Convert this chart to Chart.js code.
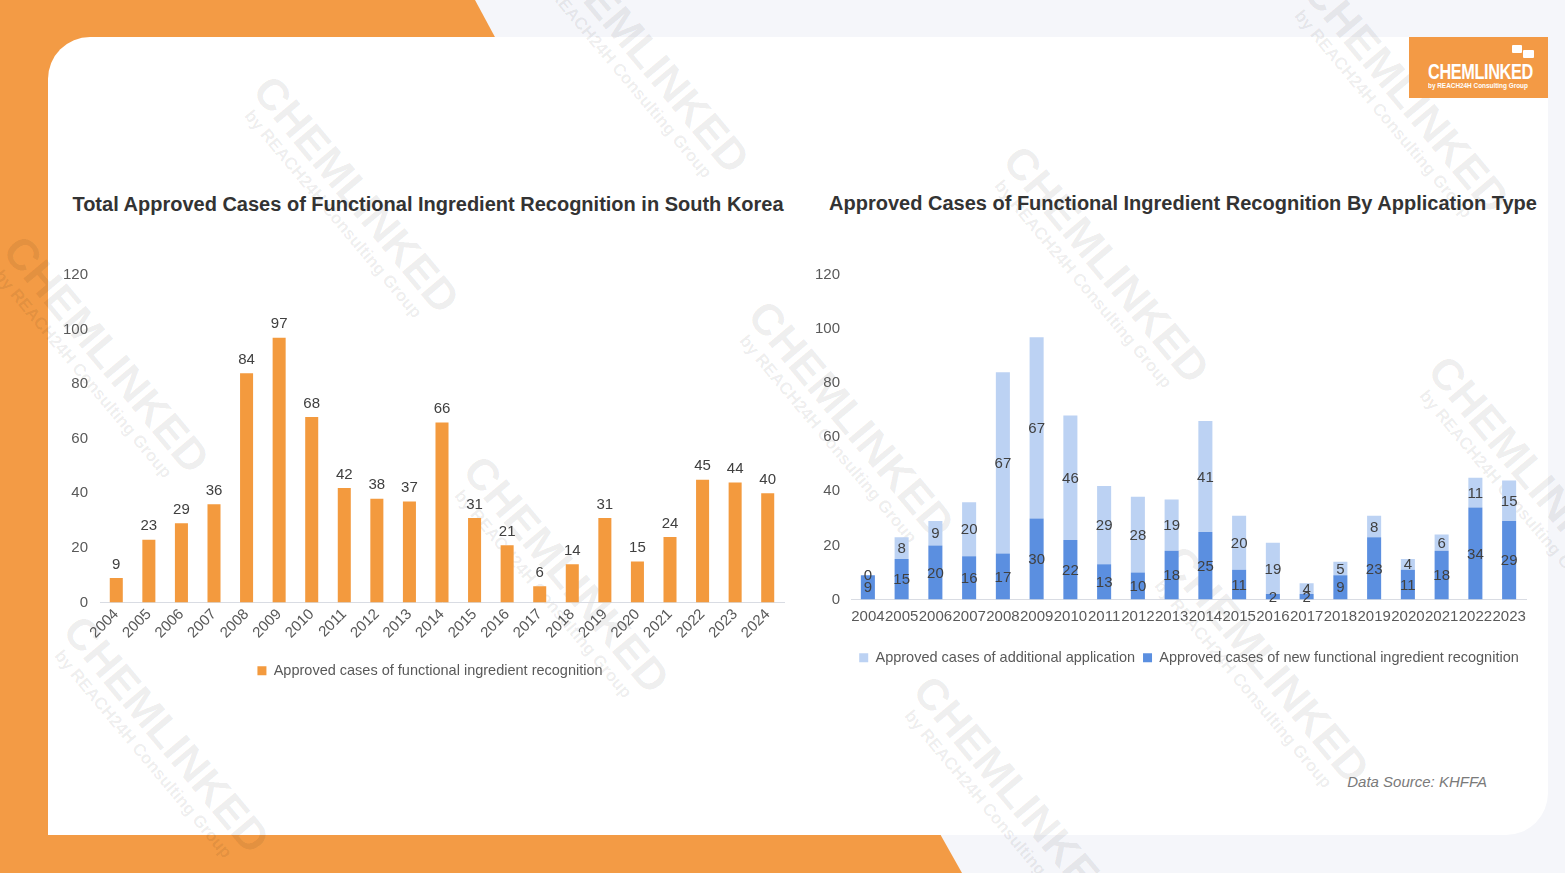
<html>
  <head>
    <script src="https://cdn.jsdelivr.net/npm/chart.js@4.4.1/dist/chart.umd.min.js"></script>
    <style>
      body {
        margin: 0;
        width: 1565px;
        height: 873px;
        overflow: hidden;
        position: relative;
        background: #f5f6fa;
        font-family: "Liberation Sans", Arial, sans-serif;
      }
      .orange {
        position: absolute;
        background: #f39b45;
      }
      .card {
        position: absolute;
        left: 48px;
        top: 37px;
        width: 1500px;
        height: 798px;
        background: #fff;
        border-radius: 42px 0 42px 0;
      }
      .mark {
        position: absolute;
        color: rgba(0, 0, 0, 0.075);
        transform: translate(-50%, -50%) rotate(50deg);
        white-space: nowrap;
        text-align: center;
        line-height: 1;
        pointer-events: none;
      }
      .mark b {
        display: block;
        font-size: 44px;
        font-weight: bold;
      }
      .mark span {
        display: block;
        font-size: 17px;
        font-weight: bold;
      }
      .title {
        position: absolute;
        font-size: 20px;
        font-weight: bold;
        color: #333;
        white-space: nowrap;
        transform: translate(-50%, -50%);
      }
      .box {
        position: absolute;
      }
    </style>
  </head>

  <body>
    <div class="orange" style="left: 0; top: 0; width: 60px; height: 873px"></div>
    <div class="orange" style="left: 0; top: 0; width: 560px; height: 80px; clip-path: polygon(0 0, 475px 0, 518px 80px, 0 80px)"></div>
    <div class="orange" style="left: 0; top: 800px; width: 1000px; height: 73px; clip-path: polygon(0 0, 921px 0, 962px 73px, 0 73px)"></div>
    <div class="card"></div>

    <div class="mark" style="left: 350px; top: 200px"><b>CHEMLINKED</b><span>by REACH24H Consulting Group</span></div>
    <div class="mark" style="left: 640px; top: 60px"><b>CHEMLINKED</b><span>by REACH24H Consulting Group</span></div>
    <div class="mark" style="left: 100px; top: 360px"><b>CHEMLINKED</b><span>by REACH24H Consulting Group</span></div>
    <div class="mark" style="left: 845px; top: 425px"><b>CHEMLINKED</b><span>by REACH24H Consulting Group</span></div>
    <div class="mark" style="left: 1100px; top: 270px"><b>CHEMLINKED</b><span>by REACH24H Consulting Group</span></div>
    <div class="mark" style="left: 1400px; top: 100px"><b>CHEMLINKED</b><span>by REACH24H Consulting Group</span></div>
    <div class="mark" style="left: 1525px; top: 480px"><b>CHEMLINKED</b><span>by REACH24H Consulting Group</span></div>
    <div class="mark" style="left: 560px; top: 580px"><b>CHEMLINKED</b><span>by REACH24H Consulting Group</span></div>
    <div class="mark" style="left: 160px; top: 740px"><b>CHEMLINKED</b><span>by REACH24H Consulting Group</span></div>
    <div class="mark" style="left: 1260px; top: 670px"><b>CHEMLINKED</b><span>by REACH24H Consulting Group</span></div>
    <div class="mark" style="left: 1010px; top: 800px"><b>CHEMLINKED</b><span>by REACH24H Consulting Group</span></div>

    <div style="position: absolute; left: 1409px; top: 37px; width: 139px; height: 61px; background: #f39a45; color: #fff; white-space: nowrap">
      <div style="position: absolute; left: 103px; top: 8px; width: 10px; height: 8px; background: #fff; border-radius: 1px"></div>
      <div style="position: absolute; left: 114px; top: 13px; width: 11px; height: 8px; background: #fff; border-radius: 1px"></div>
      <div style="position: absolute; left: 19px; top: 22px; font-size: 22px; font-weight: bold; transform: scaleX(0.74); transform-origin: left top; letter-spacing: -0.5px">CHEMLINKED</div>
      <div style="position: absolute; left: 19px; top: 44px; font-size: 8px; font-weight: bold; transform: scaleX(0.8); transform-origin: left top">by REACH24H Consulting Group</div>
    </div>

    <div class="title" style="left: 428px; top: 204px">Total Approved Cases of Functional Ingredient Recognition in South Korea</div>
    <div class="title" style="left: 1183px; top: 203px">Approved Cases of Functional Ingredient Recognition By Application Type</div>

    <div class="box" style="left: 40px; top: 250px; width: 780px; height: 450px"><canvas id="total"></canvas></div>
    <div class="box" style="left: 800px; top: 250px; width: 778px; height: 440px"><canvas id="bytype"></canvas></div>

    <div style="position: absolute; right: 78px; top: 773px; font-size: 15px; font-style: italic; color: #7a7a7a">Data Source: KHFFA</div>

    <script>
      const years_total = ["2004", "2005", "2006", "2007", "2008", "2009", "2010", "2011", "2012", "2013", "2014",
        "2015", "2016", "2017", "2018", "2019", "2020", "2021", "2022", "2023", "2024"];
      const total_cases = [9, 23, 29, 36, 84, 97, 68, 42, 38, 37, 66, 31, 21, 6, 14, 31, 15, 24, 45, 44, 40];

      const years_type = years_total.slice(0, 20);
      const new_cases = [9, 15, 20, 16, 17, 30, 22, 13, 10, 18, 25, 11, 2, 2, 9, 23, 11, 18, 34, 29];
      const additional_cases = [0, 8, 9, 20, 67, 67, 46, 29, 28, 19, 41, 20, 19, 4, 5, 8, 4, 6, 11, 15];

      const y_ticks = [0, 20, 40, 60, 80, 100, 120];

      const font_family = "'Liberation Sans', Arial, sans-serif";
      const tick_color = "#595959";
      const label_color = "#404040";

      Chart.defaults.font.family = font_family;
      Chart.defaults.animation = false;

      // draws the numbers either above the bar or in the middle of each segment
      const value_labels = {
        id: "value_labels",
        afterDatasetsDraw: (chart, args, opts) => {
          const ctx = chart.ctx;
          ctx.save();
          ctx.font = `15px ${font_family}`;
          ctx.fillStyle = label_color;
          ctx.textAlign = "center";
          chart.data.datasets.forEach((ds, i) => {
            chart.getDatasetMeta(i).data.forEach((bar, j) => {
              const v = ds.data[j];
              if (opts.mode === "top") {
                ctx.textBaseline = "bottom";
                ctx.fillText(v, bar.x, bar.y - 6);
              } else {
                ctx.textBaseline = "middle";
                ctx.fillText(v, bar.x, (bar.y + bar.base) / 2 + 1);
              }
            });
          });
          ctx.restore();
        },
      };

      const y_scale = (width, pad) => {
        return {
          min: 0,
          max: 120,
          afterBuildTicks: (s) => {
            s.ticks = y_ticks.map((v) => ({ value: v }));
          },
          afterFit: (s) => {
            s.width = width;
          },
          grid: { display: false, drawTicks: false },
          border: { display: false },
          ticks: { color: tick_color, font: { size: 15 }, padding: pad },
        };
      };

      // empty axis on the right, only used to keep the legend centred where it was
      const spacer_scale = (width) => {
        return {
          type: "linear",
          position: "right",
          afterFit: (s) => {
            s.width = width;
          },
          grid: { display: false, drawTicks: false },
          border: { display: false },
          ticks: { display: false },
        };
      };

      new Chart(document.getElementById("total"), {
        type: "bar",
        data: {
          labels: years_total,
          datasets: [
            {
              label: "Approved cases of functional ingredient recognition",
              data: total_cases,
              backgroundColor: "#f39a3e",
              barPercentage: 0.5,
              categoryPercentage: 0.8,
            },
          ],
        },
        plugins: [value_labels],
        options: {
          responsive: true,
          maintainAspectRatio: false,
          layout: { padding: { left: 0, right: 0, top: 25, bottom: 12 } },
          scales: {
            x: {
              afterFit: (s) => {
                s.height = 51;
              },
              grid: { display: false, drawTicks: false },
              border: { display: true, color: "#d9dce3" },
              ticks: {
                color: tick_color,
                font: { size: 15 },
                minRotation: 45,
                maxRotation: 45,
                autoSkip: false,
                padding: 3,
              },
            },
            y: y_scale(60, 12),
            y2: spacer_scale(36),
          },
          plugins: {
            value_labels: { mode: "top" },
            tooltip: { enabled: false },
            legend: {
              position: "bottom",
              labels: {
                color: tick_color,
                font: { size: 14.5 },
                boxWidth: 9,
                boxHeight: 9,
                padding: 10,
              },
            },
          },
        },
      });

      new Chart(document.getElementById("bytype"), {
        type: "bar",
        data: {
          labels: years_type,
          datasets: [
            {
              label: "Approved cases of new functional ingredient recognition",
              data: new_cases,
              backgroundColor: "#5b8fe0",
              barPercentage: 0.52,
              categoryPercentage: 0.8,
            },
            {
              label: "Approved cases of additional application",
              data: additional_cases,
              backgroundColor: "#bcd2f3",
              barPercentage: 0.52,
              categoryPercentage: 0.8,
            },
          ],
        },
        plugins: [value_labels],
        options: {
          responsive: true,
          maintainAspectRatio: false,
          layout: { padding: { left: 0, right: 0, top: 25, bottom: 15 } },
          scales: {
            x: {
              stacked: true,
              afterFit: (s) => {
                s.height = 43;
              },
              grid: { display: false, drawTicks: false },
              border: { display: true, color: "#d9dce3" },
              ticks: {
                color: tick_color,
                font: { size: 15 },
                maxRotation: 0,
                minRotation: 0,
                autoSkip: false,
                padding: 8,
              },
            },
            y: Object.assign(y_scale(51, 11), { stacked: true }),
            y2: spacer_scale(52),
          },
          plugins: {
            value_labels: { mode: "middle" },
            tooltip: { enabled: false },
            legend: {
              position: "bottom",
              reverse: true,
              labels: {
                color: tick_color,
                font: { size: 14.5 },
                boxWidth: 9,
                boxHeight: 9,
                padding: 8,
              },
            },
          },
        },
      });
    </script>
  </body>
</html>
